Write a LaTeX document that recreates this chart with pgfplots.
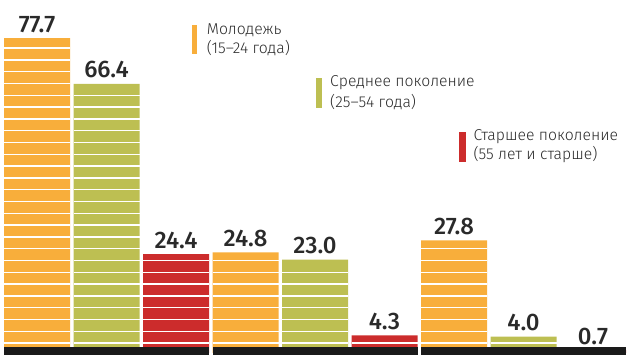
\documentclass[border=0pt]{standalone}
\usepackage{pgfplots}
\pgfplotsset{compat=1.18}
\usepackage{fontspec}
\setmainfont{Fira Sans}
\newfontfamily\legfont{Fira Sans Light}
\newfontfamily\labfont{Fira Sans Medium}
\definecolor{orangeC}{HTML}{F8AE3B}
\definecolor{greenC}{HTML}{BDBF52}
\definecolor{redC}{HTML}{CC2C2C}
\definecolor{txtC}{HTML}{2A2A2A}
\definecolor{bandC}{HTML}{1A1A1A}
\begin{document}
\begin{tikzpicture}
\begin{axis}[
  at={(0,0)}, anchor=south west, scale only axis,
  x=69.5bp, y=4.05bp,
  xmin=-0.5326, xmax=8.532, ymin=-0.52, ymax=87.134,
  hide axis, clip=false,
  ybar, bar width=0.95, /pgf/bar shift=0pt,
  nodes near coords={\pgfmathprintnumber[fixed,fixed zerofill,precision=1,assume math mode=true]{\pgfplotspointmeta}},
  every node near coord/.append style={font=\labfont\fontsize{24}{24}\selectfont, anchor=south, inner sep=0pt, yshift=5.5bp, text=txtC},
]
\addplot[fill=orangeC, draw=none] coordinates {(0,77.7) (3,24.8) (6,27.8)};
\addplot[fill=greenC, draw=none] coordinates {(1,66.4) (4,23.0) (7,4.0)};
\addplot[fill=redC, draw=none] coordinates {(2,24.4) (5,4.3) (8,0.7)};
\fill[bandC] (axis cs:-0.475,-0.52) rectangle (axis cs:2.475,1.457);
\fill[bandC] (axis cs:2.525,-0.52) rectangle (axis cs:5.475,1.457);
\fill[bandC] (axis cs:5.525,-0.52) rectangle (axis cs:8.475,1.457);
\end{axis}
% white stripes across each bar (decoration), in page units (1bp = 1px)
\foreach \i/\h in {0/77.7,1/66.4,2/24.4,3/24.8,4/23.0,5/4.3,6/27.8,7/4.0,8/0.7}{
  \pgfmathsetmacro\xl{4+69.5*\i}
  \pgfmathsetmacro\xr{70+69.5*\i}
  \pgfmathsetmacro\bartop{2.1+4.05*\h}
  \foreach \k in {1,...,30}{
    \pgfmathsetmacro\yy{11.8*\k}
    \pgfmathparse{\yy<(\bartop-1.5)?1:0}
    \ifnum\pgfmathresult=1
      \draw[white, line width=1.4bp] (\xl bp,\yy bp) -- (\xr bp,\yy bp);
    \fi
  }
}
% legend
\tikzset{legtxt/.style={anchor=base west, inner sep=0pt, font=\legfont\fontsize{15.8}{15.8}\selectfont, text=txtC}}
\fill[orangeC] (191.7bp,300.7bp) rectangle (197.3bp,330bp);
\node[legtxt] at (206.7bp,320.7bp) {Молодежь};
\node[legtxt] at (206.7bp,301.7bp) {(15–24 года)};
\fill[greenC] (316bp,246.7bp) rectangle (322bp,276.7bp);
\node[legtxt] at (330bp,268.3bp) {Среднее поколение};
\node[legtxt] at (330bp,247.3bp) {(25–54 года)};
\fill[redC] (459.3bp,192.7bp) rectangle (466bp,223.3bp);
\node[legtxt] at (473.3bp,214.3bp) {Старшее поколение};
\node[legtxt] at (473.3bp,195.7bp) {(55 лет и старше)};
\pgfresetboundingbox
\path[use as bounding box] (0,0) rectangle (630bp,355bp);
\end{tikzpicture}
\end{document}
